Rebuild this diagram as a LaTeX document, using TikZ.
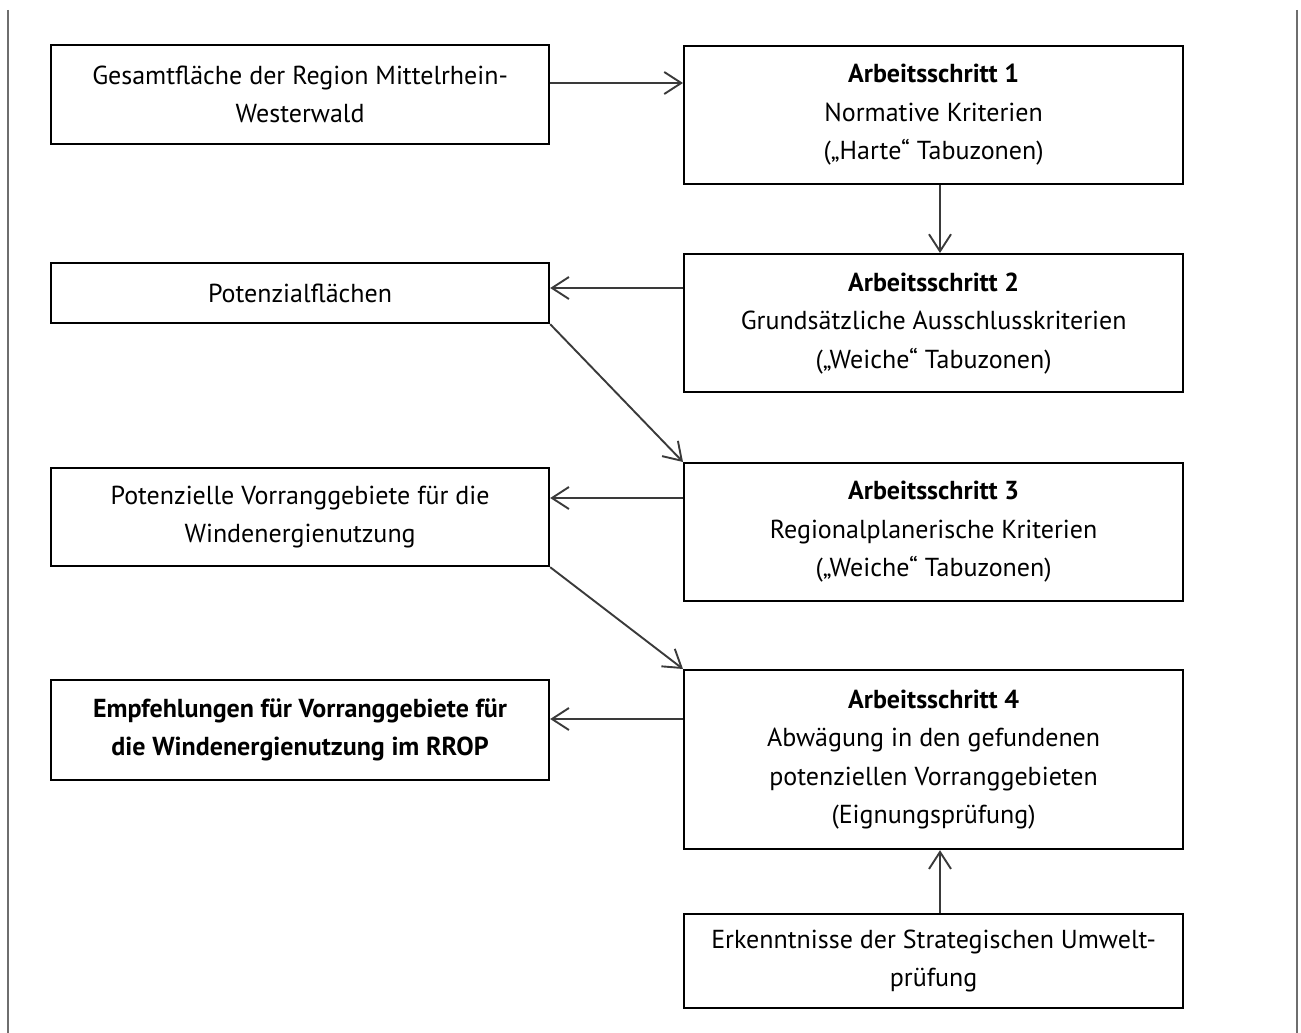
\documentclass[tikz,border=0pt]{standalone}
\usepackage{fontspec}
\setmainfont{PT Sans}
\usetikzlibrary{arrows.meta}
\definecolor{arrowgray}{HTML}{3A3A3A}
\definecolor{framegray}{HTML}{6E6E6E}
\begin{document}
\begin{tikzpicture}[x=1pt,y=-1pt,
  box/.style={draw=black, line width=2.2pt, inner sep=0pt, anchor=north west,
    align=center, font=\fontsize{26pt}{38.5pt}\selectfont},
  conn/.style={draw=arrowgray, line width=1.9pt,
    -{Straight Barb[length=17pt,width=22pt,line width=1.9pt]}},
  frameline/.style={draw=framegray, line width=1.5pt}]
\useasboundingbox (0,0) rectangle (1301,1033);
% frame lines
\coordinate (fl1) at (8,10);
\coordinate (fl2) at (8,1033);
\coordinate (fr1) at (1297,10);
\coordinate (fr2) at (1297,1033);
\draw[frameline] (fl1) -- (fl2);
\draw[frameline] (fr1) -- (fr2);
% left column
\node[box, minimum width=498pt, minimum height=99pt] (A) at (50,44)
  {Gesamtfläche der Region Mittelrhein-\\Westerwald};
\node[box, minimum width=498pt, minimum height=60pt] (P) at (50,262)
  {Potenzialflächen};
\node[box, minimum width=498pt, minimum height=98pt] (V) at (50,467)
  {Potenzielle Vorranggebiete für die\\Windenergienutzung};
\node[box, minimum width=498pt, minimum height=100pt] (E) at (50,679)
  {\textbf{Empfehlungen für Vorranggebiete für}\\\textbf{die Windenergienutzung im RROP}};
% right column
\node[box, minimum width=499pt, minimum height=138pt] (S1) at (683,45)
  {\textbf{Arbeitsschritt 1}\\Normative Kriterien\\(„Harte“ Tabuzonen)};
\node[box, minimum width=499pt, minimum height=138pt] (S2) at (683,253)
  {\textbf{Arbeitsschritt 2}\\Grundsätzliche Ausschlusskriterien\\(„Weiche“ Tabuzonen)};
\node[box, minimum width=499pt, minimum height=138pt] (S3) at (683,462)
  {\textbf{Arbeitsschritt 3}\\Regionalplanerische Kriterien\\(„Weiche“ Tabuzonen)};
\node[box, minimum width=499pt, minimum height=179pt] (S4) at (683,669)
  {\textbf{Arbeitsschritt 4}\\Abwägung in den gefundenen\\potenziellen Vorranggebieten\\(Eignungsprüfung)};
\node[box, minimum width=499pt, minimum height=94pt] (K) at (683,913)
  {Erkenntnisse der Strategischen Umwelt-\\prüfung};
% connectors
\coordinate (vx) at (940,0);
\draw[conn] (A.east |- 0,83) -- (S1.west |- 0,83);
\draw[conn] (S1.south -| vx) -- (S2.north -| vx);
\draw[conn] (S2.west |- 0,288) -- (P.east |- 0,288);
\draw[conn] (P.south east) -- (S3.north west);
\draw[conn] (S3.west |- 0,498) -- (V.east |- 0,498);
\draw[conn] (V.south east) -- (S4.north west);
\draw[conn] (S4.west |- 0,719) -- (E.east |- 0,719);
\draw[conn] (K.north -| vx) -- (S4.south -| vx);
\end{tikzpicture}
\end{document}
